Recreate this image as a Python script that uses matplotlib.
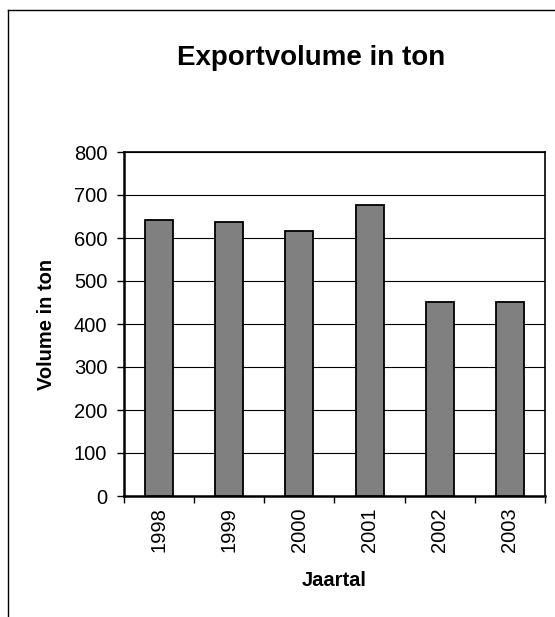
import matplotlib
matplotlib.use("Agg")
import matplotlib.pyplot as plt
from matplotlib.lines import Line2D

years = ["1998", "1999", "2000", "2001", "2002", "2003"]
volumes = [641, 637, 617, 677, 451, 451]
yticks = [0, 100, 200, 300, 400, 500, 600, 700, 800]

title = "Exportvolume in ton"
xlabel = "Jaartal"
ylabel = "Volume in ton"

plt.rcParams['font.family'] = ['Liberation Sans', 'DejaVu Sans']

W, H = 555, 617
fig = plt.figure(figsize=(W / 100, H / 100), dpi=100)
fig.patch.set_facecolor("white")

# outer chart frame (cropped on the right/bottom)
fig.add_artist(Line2D([7.5 / W, 7.5 / W], [0, 1 - 10 / H], transform=fig.transFigure,
                      color="black", lw=1.0))
fig.add_artist(Line2D([7.5 / W, 1], [1 - 10 / H, 1 - 10 / H], transform=fig.transFigure,
                      color="black", lw=1.0))

L, R, T, B = 124, 545, 152, 496
ax = fig.add_axes([L / W, 1 - B / H, (R - L) / W, (B - T) / H])

x = list(range(len(years)))
ax.bar(x, volumes, width=0.4, color="#808080", edgecolor="black", linewidth=1.3, zorder=3)

ax.set_xlim(-0.5, len(years) - 0.5)
ax.set_ylim(0, 800)
ax.set_yticks(yticks)
ax.set_yticklabels([str(v) for v in yticks], fontsize=14.5)
ax.yaxis.grid(True, color="black", linewidth=0.8, zorder=0)
ax.set_axisbelow(True)

ax.set_xticks(x)
ax.set_xticklabels(years, rotation=90, fontsize=14.5)
ax.tick_params(axis="x", which="major", length=0, pad=8)
ax.set_xticks([i - 0.5 for i in range(len(years) + 1)], minor=True)
ax.tick_params(axis="x", which="minor", length=5, width=1, direction="out", color="black")
ax.tick_params(axis="y", length=5, width=1, direction="out", pad=7, color="black")

for s in ax.spines.values():
    s.set_color("black")
    s.set_linewidth(1.2)
ax.spines["left"].set_linewidth(1.8)
ax.spines["bottom"].set_linewidth(1.8)

ax.set_ylabel(ylabel, fontsize=14.5, fontweight="bold", va="center")
ax.yaxis.set_label_coords((46 - L) / (R - L), 0.5)
ax.set_xlabel(xlabel, fontsize=14.5, fontweight="bold")
ax.xaxis.set_label_coords(0.5, (B - 580) / (B - T))
ax.xaxis.label.set_va("center")

fig.text(311 / W, 1 - 65 / H, title, fontsize=20, fontweight="bold",
         ha="center", va="baseline")

fig.savefig("out.png", dpi=100, facecolor="white")
